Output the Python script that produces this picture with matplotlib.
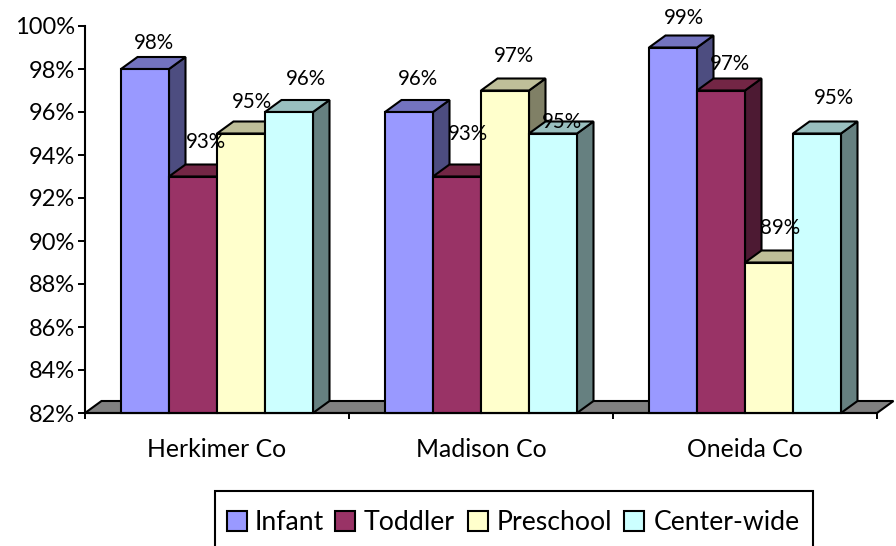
import matplotlib
matplotlib.use("Agg")
import matplotlib.pyplot as plt
from matplotlib.patches import Polygon, Rectangle

plt.rcParams['font.family'] = ['Lato', 'DejaVu Sans']

categories = ["Herkimer Co", "Madison Co", "Oneida Co"]
series_names = ["Infant", "Toddler", "Preschool", "Center-wide"]
infant = [98, 96, 99]
toddler = [93, 93, 97]
preschool = [95, 97, 89]
centerwide = [96, 95, 95]
y_ticks = [82, 84, 86, 88, 90, 92, 94, 96, 98, 100]

front = ["#9999FF", "#993366", "#FFFFCC", "#CCFFFF"]
top = ["#7373BF", "#732645", "#BFBF99", "#99BFBF"]
side = ["#4D4D80", "#4D1A33", "#808066", "#668080"]

W, H = 896, 546
fig = plt.figure(figsize=(W / 100, H / 100), dpi=100, facecolor="white")
ax = fig.add_axes([85 / W, 1 - 413 / H, 792 / W, 387 / H])
ax.set_xlim(0, 3)
ax.set_ylim(82, 100)
ax.patch.set_visible(False)

# pixel to data conversion for the pseudo-3D depth
px_x = 3 / 792
px_y = 18 / 387
dx, dy = 16.5 * px_x, 12 * px_y
bar_w = 48 * px_x
start = 36 * px_x
LW = 1.5

ax.add_patch(Polygon([(0, 82), (dx, 82 + dy), (3 + dx, 82 + dy), (3, 82)],
                     closed=True, fc="#808080", ec="black", lw=LW, clip_on=False, zorder=1))

series = [infant, toddler, preschool, centerwide]
z = 2
for g in range(3):
    for s, vals in enumerate(series):
        x0 = g + start + s * bar_w
        x1 = x0 + bar_w
        v = vals[g]
        ax.add_patch(Polygon([(x1, 82), (x1 + dx, 82 + dy), (x1 + dx, v + dy), (x1, v)],
                             closed=True, fc=side[s], ec="black", lw=LW, clip_on=False, zorder=z,
                             joinstyle="miter"))
        ax.add_patch(Polygon([(x0, v), (x0 + dx, v + dy), (x1 + dx, v + dy), (x1, v)],
                             closed=True, fc=top[s], ec="black", lw=LW, clip_on=False, zorder=z,
                             joinstyle="miter"))
        ax.bar(x0, v - 82, width=bar_w, bottom=82, align="edge", color=front[s],
               edgecolor="black", linewidth=LW, zorder=z, clip_on=False)
        z += 1

# hand-read label placement, pixels from the bar's front-top centre
nudge_x = [[9, 13, 11, 17], [9, 11, 9, 9], [11, 9, 11, 17]]
nudge_y = [[26, 34, 32, 33], [33, 42, 34, 12], [29, 27, 35, 36]]
for g in range(3):
    for s, vals in enumerate(series):
        xc = g + start + (s + 0.5) * bar_w + nudge_x[g][s] * px_x
        yc = vals[g] + nudge_y[g][s] * px_y
        ax.text(xc, yc, f"{vals[g]}%", ha="center", va="center", fontsize=14.8,
                color="black", zorder=100, clip_on=False)

for sp in ("top", "right"):
    ax.spines[sp].set_visible(False)
for sp in ("left", "bottom"):
    ax.spines[sp].set_linewidth(1.5)
    ax.spines[sp].set_zorder(50)

ax.set_yticks(y_ticks)
ax.set_yticklabels([f"{t}%" for t in y_ticks], fontsize=17)
ax.tick_params(axis="y", length=5, width=1.4, pad=2)
ax.set_xticks([0, 1, 2, 3])
ax.set_xticklabels([])
ax.tick_params(axis="x", which="major", length=4.5, width=1.4)
ax.set_xticks([0.5, 1.5, 2.5], minor=True)
ax.set_xticklabels(categories, minor=True, fontsize=17.8)
ax.tick_params(axis="x", which="minor", length=0, pad=18)

# legend box, running off the lower edge as in the source image
def fx(p):
    return p / W
def fy(p):
    return 1 - p / H

fig.add_artist(Rectangle((fx(215), fy(560)), 598 / W, 69 / H, transform=fig.transFigure,
                         fc="white", ec="black", lw=1.5))
swatch_px = [227, 335, 468, 624]
text_px = [255, 364, 497, 654]
for s, name in enumerate(series_names):
    fig.add_artist(Rectangle((fx(swatch_px[s]), fy(531)), 20 / W, 20 / H, transform=fig.transFigure,
                             fc=front[s], ec="black", lw=1.5))
    fig.text(fx(text_px[s]), fy(522), name, ha="left", va="center", fontsize=19.2, color="black")

fig.savefig("out.png", dpi=100)
